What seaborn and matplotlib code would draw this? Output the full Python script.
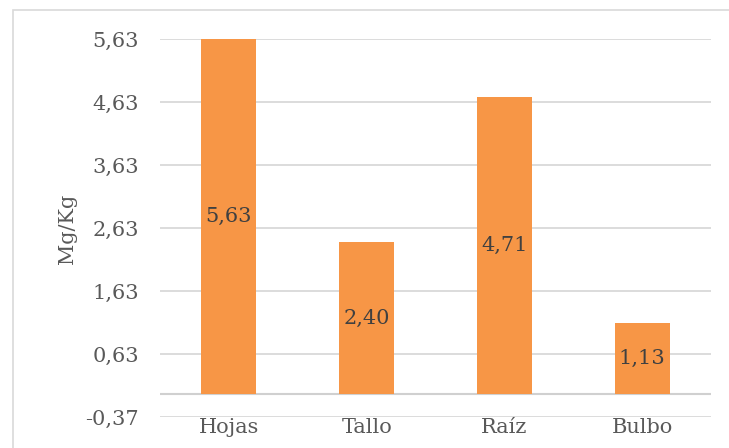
import matplotlib
matplotlib.use("Agg")
import matplotlib.pyplot as plt
import seaborn as sns
import pandas as pd
from matplotlib.patches import Rectangle

categories = ["Hojas", "Tallo", "Raíz", "Bulbo"]
values = [5.63, 2.40, 4.71, 1.13]
value_labels = ["5,63", "2,40", "4,71", "1,13"]
yticks = [-0.37, 0.63, 1.63, 2.63, 3.63, 4.63, 5.63]
ytick_labels = ["-0,37", "0,63", "1,63", "2,63", "3,63", "4,63", "5,63"]
ylabel = "Mg/Kg"

sns.set_style("white")
plt.rcParams['font.family'] = ['DejaVu Serif']

df = pd.DataFrame({"cat": categories, "val": values})

fig = plt.figure(figsize=(7.29, 4.48), dpi=100)
ax = fig.add_axes([160/729, 1-417/448, (711-160)/729, (417-39)/448])

sns.barplot(data=df, x="cat", y="val", color="#F79646", saturation=1, width=0.4,
            linewidth=0, edgecolor="none", ax=ax, zorder=3)

ax.set_ylim(-0.37, 5.63)
ax.set_xlim(-0.5, 3.5)
ax.set_yticks(yticks)
ax.set_yticklabels(ytick_labels)
ax.grid(axis="y", color="#D9D9D9", linewidth=1.3, zorder=0)
ax.axhline(0, color="#D0D0D0", linewidth=1.5, zorder=2)
for s in ax.spines.values():
    s.set_visible(False)
ax.tick_params(axis="both", length=0, labelsize=15, colors="#595959")
ax.tick_params(axis="x", pad=1)
ax.tick_params(axis="y", pad=15)
ax.set_xlabel("")
ax.set_ylabel("")
fig.text(67/729, 1-229/448, ylabel, rotation=90, ha="center", va="center",
         fontsize=15, color="#595959")

for i, (v, lab) in enumerate(zip(values, value_labels)):
    ax.text(i, v / 2, lab, ha="center", va="center", fontsize=15, color="#404040", zorder=4)

fig.patches.append(Rectangle((13/729, -0.05), 1.0, 1.05 - 10/448, transform=fig.transFigure,
                             fill=False, edgecolor="#D9D9D9", linewidth=1.2))

fig.savefig("out.png", dpi=100, facecolor="white")
